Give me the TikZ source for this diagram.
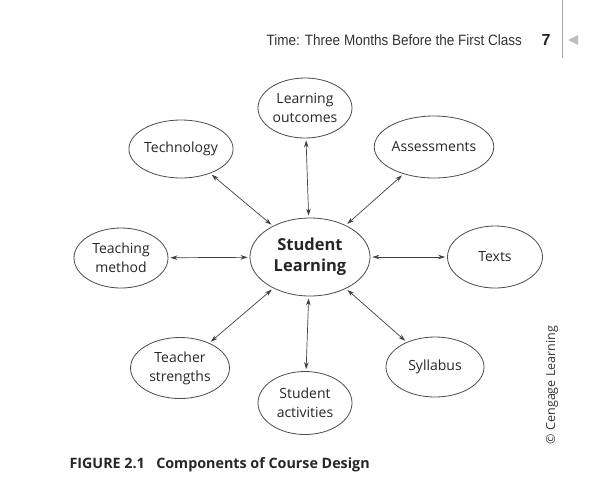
\documentclass[tikz,border=0pt]{standalone}
\usepackage{fontspec}
\setmainfont{Open Sans}
\newfontfamily\headfont{Liberation Sans}
\usetikzlibrary{shapes.geometric,arrows.meta}
\begin{document}
\begin{tikzpicture}[x=1pt,y=-1pt,
  bub/.style={ellipse,draw=black!70,line width=0.8pt,inner sep=0pt,align=center,font=\fontsize{14}{19}\selectfont,text=black!85},
  link/.style={{Stealth[length=7pt,width=4.5pt]}-{Stealth[length=7pt,width=4.5pt]},line width=0.7pt,draw=black!75,shorten <=2pt,shorten >=2pt}]
\useasboundingbox (0,0) rectangle (599,480);
\node[bub,minimum width=120pt,minimum height=78pt,font=\bfseries\fontsize{16.5}{21}\selectfont] (c) at (310,257) {Student\\Learning};
\node[bub,minimum width=94pt,minimum height=60pt] (lo) at (305,108) {Learning\\outcomes};
\node[bub,minimum width=100pt,minimum height=58pt] (te) at (181,149) {Technology};
\node[bub,minimum width=99pt,minimum height=62pt] (as) at (434,147) {Assessments};
\node[bub,minimum width=94pt,minimum height=60pt] (tm) at (121,258) {Teaching\\method};
\node[bub,minimum width=95pt,minimum height=62pt] (tx) at (495,257) {Texts};
\node[bub,minimum width=99pt,minimum height=61pt] (ts) at (180,368) {Teacher\\strengths};
\node[bub,minimum width=98pt,minimum height=60pt] (sy) at (435,367) {Syllabus};
\node[bub,minimum width=94pt,minimum height=63pt] (sa) at (305,403) {Student\\activities};
\foreach \n in {lo,te,as,tm,tx,ts,sy,sa} \draw[link] (\n) -- (c);
\node[anchor=base east,font=\headfont\fontsize{15}{17}\selectfont,text=black!80,xscale=0.9] (hd) at (525,45) {Time: Three Months Before the First Class};
\node[anchor=base,font=\headfont\bfseries\fontsize{16}{18}\selectfont,text=black!85] (pg) at (546,45) {7};
\draw[black!35,line width=0.8pt] (562,0) -- (562,58);
\fill[black!25] (568,40) -- (578,35) -- (578,45) -- cycle;
\node[rotate=90,font=\fontsize{12.5}{14}\selectfont,text=black!80] (cr) at (552,385) {© Cengage Learning};
\node[anchor=base west,font=\bfseries\fontsize{14.3}{17}\selectfont,text=black!85] (cap) at (66,468) {FIGURE 2.1\hspace{0.8em}Components of Course Design};
\end{tikzpicture}
\end{document}
